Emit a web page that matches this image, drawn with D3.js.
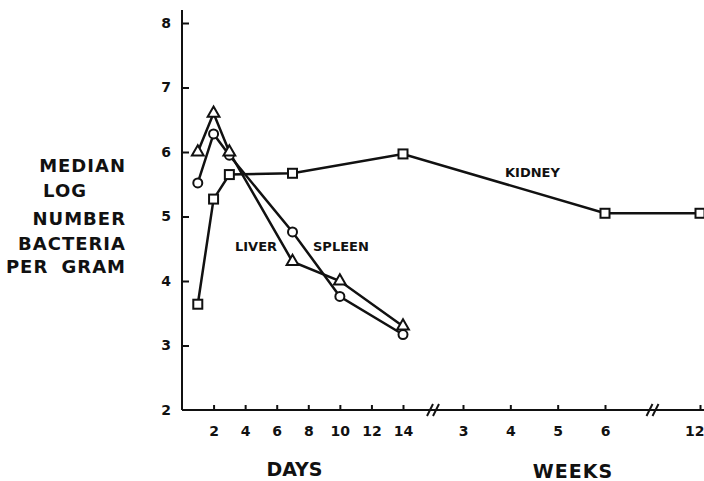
<!DOCTYPE html>
<html>
<head>
<meta charset="utf-8">
<script src="https://cdn.jsdelivr.net/npm/d3@7"></script>
<style>
  body { margin: 0; background: #fff; overflow: hidden; }
  svg { display: block; }
  text { font-family: "DejaVu Sans", sans-serif; font-weight: bold; fill: #111; }
</style>
</head>
<body>
<script>
var w = 704;
var h = 481;

// time in days (weeks are stored as days too)
var organDays = [1, 2, 3, 7, 10, 14];
var liver = [6.0, 6.6, 6.0, 4.3, 4.0, 3.3];
var spleen = [5.52, 6.28, 5.95, 4.76, 3.76, 3.17];
var kidneyDays = [1, 2, 3, 7, 14, 42, 84];
var kidney = [3.64, 5.27, 5.65, 5.67, 5.97, 5.05, 5.05];

var dayTicks = [2, 4, 6, 8, 10, 12, 14];
var weekTicks = [3, 4, 5, 6, 12];
var yTicks = [2, 3, 4, 5, 6, 7, 8];
var yTitle = ['MEDIAN', 'LOG', 'NUMBER', 'BACTERIA', 'PER GRAM'];

var x = d3.scaleLinear()
	.domain([0, 14, 21, 42, 84])
	.range([182, 403, 463, 605, 700]);
var y = d3.scaleLinear().domain([2, 8]).range([410, 23]);

var svg = d3.select('body').append('svg')
	.attr('width', w)
	.attr('height', h);

var ink = '#111';

// axis lines
svg.append('line')
	.attr('x1', x(0)).attr('x2', x(0))
	.attr('y1', 10).attr('y2', y(2))
	.attr('stroke', ink).attr('stroke-width', 2);
svg.append('line')
	.attr('x1', x(0)).attr('x2', w)
	.attr('y1', y(2)).attr('y2', y(2))
	.attr('stroke', ink).attr('stroke-width', 2);

var xTickVals = dayTicks.concat(weekTicks.map(function(d) { return d * 7; }));

var xAxis = svg.append('g')
	.attr('transform', 'translate(0,' + y(2) + ')')
	.call(d3.axisBottom(x)
		.tickValues(xTickVals)
		.tickFormat(function(d) { return d > 14 ? d / 7 : d; })
		.tickSizeInner(-5)
		.tickSizeOuter(0)
		.tickPadding(16));
xAxis.select('.domain').remove();
xAxis.selectAll('line').attr('stroke', ink).attr('stroke-width', 2);
xAxis.selectAll('text')
	.style('font-family', '"DejaVu Sans", sans-serif')
	.style('font-weight', 'bold')
	.style('font-size', '14px')
	.attr('fill', ink);
// last label sits at the right edge
xAxis.selectAll('.tick').filter(function(d) { return d === 84; }).select('text')
	.attr('text-anchor', 'end')
	.attr('x', w - x(84));

var yAxis = svg.append('g')
	.attr('transform', 'translate(' + x(0) + ',0)')
	.call(d3.axisLeft(y)
		.tickValues(yTicks)
		.tickFormat(d3.format('d'))
		.tickSizeInner(-7)
		.tickSizeOuter(0)
		.tickPadding(11));
yAxis.select('.domain').remove();
yAxis.selectAll('line').attr('stroke', ink).attr('stroke-width', 2);
yAxis.selectAll('.tick').filter(function(d) { return d === 2; }).select('line').remove();
yAxis.selectAll('text')
	.style('font-family', '"DejaVu Sans", sans-serif')
	.style('font-weight', 'bold')
	.style('font-size', '14px')
	.attr('fill', ink);

// axis breaks
[17.5, 63].forEach(function(d) {
	var bx = x(d);
	[-3, 3].forEach(function(o) {
		svg.append('line')
			.attr('x1', bx + o - 3).attr('y1', y(2) + 6)
			.attr('x2', bx + o + 3).attr('y2', y(2) - 6)
			.attr('stroke', ink).attr('stroke-width', 2);
	});
});

// axis titles
svg.append('text')
	.attr('x', (x(0) + x(14)) / 2 + 2).attr('y', 476)
	.attr('text-anchor', 'middle')
	.style('font-size', '19px')
	.text('DAYS');
svg.append('text')
	.attr('x', (x(21) + x(42)) / 2 + 39).attr('y', 478)
	.attr('text-anchor', 'middle')
	.style('font-size', '19px')
	.style('letter-spacing', '1px')
	.text('WEEKS');

var titleX = [126, 87, 126, 126, 126];
var titleY = [172, 197, 225, 250, 273];
svg.selectAll('.ytitle')
	.data(yTitle)
	.enter()
	.append('text')
	.attr('class', 'ytitle')
	.attr('x', function(d, i) { return titleX[i]; })
	.attr('y', function(d, i) { return titleY[i]; })
	.attr('text-anchor', 'end')
	.style('font-size', '18px')
	.style('letter-spacing', '1px')
	.style('word-spacing', '6px')
	.text(function(d) { return d; });

// series
var line = d3.line()
	.x(function(d) { return x(d[0]); })
	.y(function(d) { return y(d[1]); });

var liverPts = organDays.map(function(d, i) { return [d, liver[i]]; });
var spleenPts = organDays.map(function(d, i) { return [d, spleen[i]]; });
var kidneyPts = kidneyDays.map(function(d, i) { return [d, kidney[i]]; });

[kidneyPts, spleenPts, liverPts].forEach(function(pts) {
	svg.append('path')
		.datum(pts)
		.attr('d', line)
		.attr('fill', 'none')
		.attr('stroke', ink)
		.attr('stroke-width', 2.5);
});

svg.selectAll('.sq')
	.data(kidneyPts)
	.enter()
	.append('rect')
	.attr('class', 'sq')
	.attr('x', function(d) { return x(d[0]) - 4.5; })
	.attr('y', function(d) { return y(d[1]) - 4.5; })
	.attr('width', 9).attr('height', 9)
	.attr('fill', '#fff').attr('stroke', ink).attr('stroke-width', 2);

svg.selectAll('.ci')
	.data(spleenPts)
	.enter()
	.append('circle')
	.attr('class', 'ci')
	.attr('cx', function(d) { return x(d[0]); })
	.attr('cy', function(d) { return y(d[1]); })
	.attr('r', 4.5)
	.attr('fill', '#fff').attr('stroke', ink).attr('stroke-width', 2);

svg.selectAll('.tri')
	.data(liverPts)
	.enter()
	.append('path')
	.attr('class', 'tri')
	.attr('d', d3.symbol().type(d3.symbolTriangle).size(60))
	.attr('transform', function(d) { return 'translate(' + x(d[0]) + ',' + y(d[1]) + ')'; })
	.attr('fill', '#fff').attr('stroke', ink).attr('stroke-width', 2);

// series labels
svg.append('text').attr('x', 235).attr('y', 251).style('font-size', '13px').text('LIVER');
svg.append('text').attr('x', 313).attr('y', 251).style('font-size', '13px').text('SPLEEN');
svg.append('text').attr('x', 505).attr('y', 177).style('font-size', '13px').text('KIDNEY');
</script>
</body>
</html>
